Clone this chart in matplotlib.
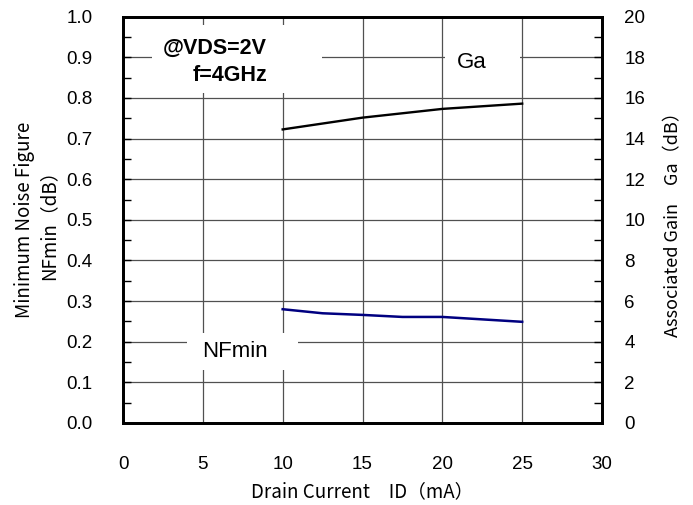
import matplotlib
matplotlib.use("Agg")
import matplotlib.pyplot as plt
from matplotlib.patches import Rectangle
from matplotlib.ticker import MultipleLocator

plt.rcParams["font.family"] = ["Liberation Sans", "DejaVu Sans"]
JP = ["Noto Sans CJK JP", "DejaVu Sans"]

# datos
id_nf = [10, 12.5, 15, 17.5, 20, 22.5, 25]
nfmin = [0.280, 0.270, 0.266, 0.261, 0.261, 0.255, 0.249]
id_ga = [10, 15, 20, 25]
ga = [14.45, 15.03, 15.46, 15.72]

fig = plt.figure(figsize=(6.93, 5.05), dpi=100)
ax = fig.add_axes([0.1775, 0.1624, 0.6912, 0.8046])
ax2 = ax.twinx()

ax.set_xlim(0, 30)
ax.set_ylim(0, 1.0)
ax2.set_ylim(0, 20)
ax.xaxis.set_major_locator(MultipleLocator(5))
ax.yaxis.set_major_locator(MultipleLocator(0.1))
ax.yaxis.set_minor_locator(MultipleLocator(0.05))
ax2.yaxis.set_major_locator(MultipleLocator(2))
ax2.yaxis.set_minor_locator(MultipleLocator(1))
ax.yaxis.set_major_formatter(lambda v, p: f"{v:.1f}")

ax.set_axisbelow(True)
ax.grid(True, color="#505050", lw=0.9)

for a in (ax, ax2):
    for s in a.spines.values():
        s.set_linewidth(2)
ax.tick_params(axis="y", which="both", direction="in", length=6, width=1,
               labelsize=13.5, pad=22)
ax.tick_params(axis="x", direction="in", length=0, labelsize=13.5, pad=24)
ax2.tick_params(axis="y", which="both", direction="in", length=6, width=1,
                labelsize=13.5, pad=16)

# cajas blancas detras de los rotulos
for x0, y0, w, h in [(0.0605, 0.8128, 0.355, 0.167),
                     (0.672, 0.831, 0.157, 0.10),
                     (0.1336, 0.1305, 0.2317, 0.091)]:
    ax.add_patch(Rectangle((x0, y0), w, h, transform=ax.transAxes,
                           facecolor="white", edgecolor="none", zorder=1))

ax.plot(id_nf, nfmin, color="#000080", lw=1.8, zorder=3)
ax2.plot(id_ga, ga, color="black", lw=1.7)

ax.text(0.192, 0.889, "@VDS=2V\nf=4GHz", transform=ax.transAxes, ha="center",
        va="center", multialignment="right", fontsize=15.5, fontweight="bold",
        linespacing=1.35, zorder=4)
ax.text(0.7286, 0.8867, "Ga", transform=ax.transAxes, ha="center", va="center",
        fontsize=16, zorder=4)
ax.text(0.2338, 0.1749, "NFmin", transform=ax.transAxes, ha="center",
        va="center", fontsize=16, zorder=4)

ax.set_xlabel("Drain Current\u3000ID（mA）", family=JP, fontsize=13.5,
              va="center")
ax.xaxis.set_label_coords(0.5, -0.169)
ax.set_ylabel("Minimum Noise Figure\nNFmin（dB）", family=JP, fontsize=13.5,
              va="center", linespacing=1.2)
ax.yaxis.set_label_coords(-0.18, 0.5)
ax2.set_ylabel("Associated Gain\u3000Ga（dB）", family=JP, fontsize=13,
               va="center")
ax2.yaxis.set_label_coords(1.149, 0.5)

fig.savefig("out.png", dpi=100)
